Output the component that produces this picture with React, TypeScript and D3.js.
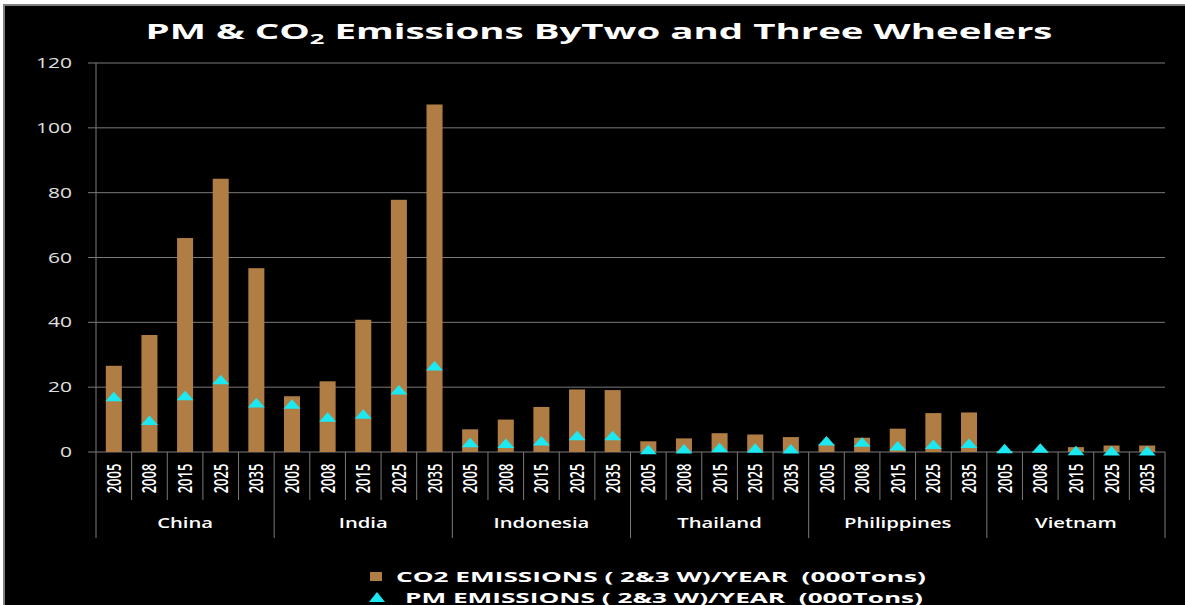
import React from "react";
import * as d3 from "d3";

// Emissions by country and year (thousand tons)
const countries = ["China", "India", "Indonesia", "Thailand", "Philippines", "Vietnam"];
const years = ["2005", "2008", "2015", "2025", "2035"];

const co2China = [26.6, 36.1, 66.0, 84.3, 56.7];
const co2India = [17.2, 21.8, 40.8, 77.8, 107.2];
const co2Indonesia = [7.0, 10.0, 13.9, 19.3, 19.1];
const co2Thailand = [3.3, 4.2, 5.8, 5.4, 4.6];
const co2Philippines = [2.4, 4.4, 7.2, 12.0, 12.2];
const co2Vietnam = [0.3, 0.3, 1.5, 2.0, 2.0];

const pmChina = [17.1, 9.8, 17.4, 22.4, 15.2];
const pmIndia = [14.8, 10.8, 11.7, 19.2, 26.6];
const pmIndonesia = [2.9, 2.7, 3.5, 5.1, 5.1];
const pmThailand = [0.8, 1.0, 1.4, 1.2, 1.0];
const pmPhilippines = [3.5, 3.1, 1.9, 2.4, 2.7];
const pmVietnam = [1.1, 1.2, 0.5, 0.4, 0.4];

const yTicks = [0, 20, 40, 60, 80, 100, 120];

const co2Series = [co2China, co2India, co2Indonesia, co2Thailand, co2Philippines, co2Vietnam];
const pmSeries = [pmChina, pmIndia, pmIndonesia, pmThailand, pmPhilippines, pmVietnam];

const legendCo2 = "CO2 EMISSIONS ( 2&3 W)/YEAR  (000Tons)";
const legendPm = "PM EMISSIONS ( 2&3 W)/YEAR  (000Tons)";

const W = 1185;
const H = 605;
const left = 96;
const right = 1165;
const top = 63;
const bottom = 452;
const SX = 1.5; // horizontal stretch of the label glyphs

const BAR = "#B07E45";
const CYAN = "#1CE8F2";
const GRID = "#7a7a7a";
const FONT = "'Open Sans', 'DejaVu Sans', sans-serif";

type Row = { key: string; country: string; year: string; co2: number; pm: number };

const rows: Row[] = [];
countries.forEach((c, ci) => {
  years.forEach((yr, yi) => {
    rows.push({ key: c + "-" + yr, country: c, year: yr, co2: co2Series[ci][yi], pm: pmSeries[ci][yi] });
  });
});

export default function App() {
  const x = d3.scaleBand<string>().domain(rows.map((r) => r.key)).range([left, right]).padding(0);
  const gx = d3.scaleBand<string>().domain(countries).range([left, right]).padding(0);
  const y = d3.scaleLinear().domain([0, 120]).range([bottom, top]);

  const bw = x.bandwidth() * 0.45;
  const triW = 17;
  const triH = 9.5;
  const tri = (cx: number, cy: number) =>
    `M${cx - triW / 2},${cy + triH / 2} L${cx},${cy - triH / 2} L${cx + triW / 2},${cy + triH / 2} Z`;

  return (
    <div style={{ position: "absolute", left: 0, top: 0 }}>
      <svg width={W} height={H} style={{ display: "block", background: "#fff" }}>
        <rect x={4} y={5} width={W + 10} height={H + 10} fill="#000" stroke="#808080" strokeWidth={2} />

        {/* title */}
        <text
          x={599}
          y={39}
          textAnchor="middle"
          textLength={907}
          lengthAdjust="spacingAndGlyphs"
          fill="#fff"
          fontFamily={FONT}
          fontWeight={700}
          fontSize={21}
        >
          PM &amp; CO
          <tspan fontSize={14} dy={5}>2</tspan>
          <tspan dy={-5}> Emissions ByTwo and Three Wheelers</tspan>
        </text>

        {/* gridlines and value axis */}
        {yTicks.map((t) => (
          <g key={t}>
            <line x1={left - 8} x2={right} y1={y(t)} y2={y(t)} stroke={GRID} strokeWidth={1} />
            <g transform={`translate(72,${y(t)}) scale(${SX},1)`}>
              <text textAnchor="end" dy="0.36em" fill="#e0e0e0" fontFamily={FONT} fontSize={14}>
                {t}
              </text>
            </g>
          </g>
        ))}
        <line x1={left} x2={left} y1={top} y2={bottom} stroke={GRID} strokeWidth={1} />

        {/* CO2 bars */}
        {rows.map((r) => {
          const cx = (x(r.key) as number) + x.bandwidth() / 2;
          return (
            <rect key={"b" + r.key} x={cx - bw / 2} y={y(r.co2)} width={bw} height={bottom - y(r.co2)} fill={BAR} />
          );
        })}

        {/* PM markers */}
        {rows.map((r) => {
          const cx = (x(r.key) as number) + x.bandwidth() / 2;
          return <path key={"m" + r.key} d={tri(cx, y(r.pm))} fill={CYAN} />;
        })}

        {/* category axis: year cells */}
        {rows.map((r, i) => {
          const x0 = x(r.key) as number;
          const cx = x0 + x.bandwidth() / 2;
          return (
            <g key={"c" + r.key}>
              {i % years.length !== 0 && (
                <line x1={x0} x2={x0} y1={bottom} y2={500} stroke={GRID} strokeWidth={1} />
              )}
              <g transform={`translate(${cx},478.5) scale(${SX},1) rotate(-90)`}>
                <text textAnchor="middle" dy="0.36em" fill="#fff" fontFamily={FONT} fontWeight={600} fontSize={13}>
                  {r.year}
                </text>
              </g>
            </g>
          );
        })}

        {/* category axis: country groups */}
        {countries.map((c) => {
          const g0 = gx(c) as number;
          return (
            <g key={"g" + c}>
              <line x1={g0} x2={g0} y1={bottom} y2={538} stroke={GRID} strokeWidth={1} />
              <g transform={`translate(${g0 + gx.bandwidth() / 2},523) scale(${SX},1)`}>
                <text textAnchor="middle" dy="0.36em" fill="#fff" fontFamily={FONT} fontWeight={600} fontSize={13.5}>
                  {c}
                </text>
              </g>
            </g>
          );
        })}
        <line x1={right} x2={right} y1={bottom} y2={538} stroke={GRID} strokeWidth={1} />

        {/* legend */}
        <rect x={370} y={572} width={12} height={9} fill={BAR} />
        <text
          x={396}
          y={581.5}
          textLength={530}
          lengthAdjust="spacingAndGlyphs"
          fill="#fff"
          fontFamily={FONT}
          fontWeight={700}
          fontSize={13.5}
          style={{ whiteSpace: "pre" }}
        >
          {legendCo2}
        </text>
        <path d={`M369,602 L377,592 L385,602 Z`} fill={CYAN} />
        <text
          x={405}
          y={602.5}
          textLength={518}
          lengthAdjust="spacingAndGlyphs"
          fill="#fff"
          fontFamily={FONT}
          fontWeight={700}
          fontSize={13.5}
          style={{ whiteSpace: "pre" }}
        >
          {legendPm}
        </text>
      </svg>
    </div>
  );
}
